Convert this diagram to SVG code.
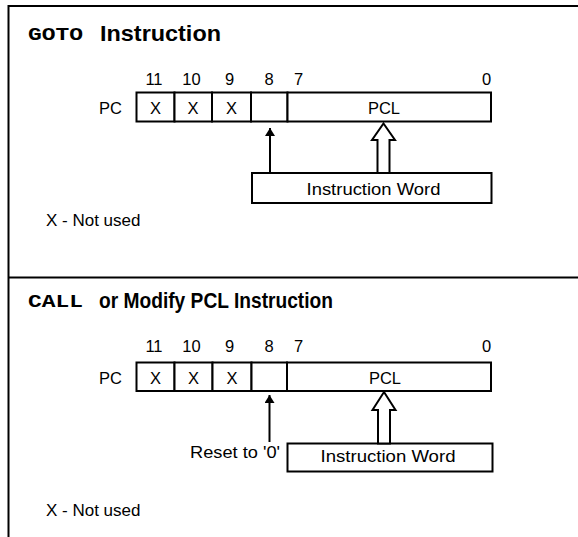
<svg xmlns="http://www.w3.org/2000/svg" width="578" height="537" viewBox="0 0 578 537">
<style>
.f{fill:#fff;stroke:#000;stroke-width:2}
.ln{stroke:#000;stroke-width:2;fill:none}
.t{font-family:"Liberation Sans",Arial,sans-serif;fill:#000}
.s{font-size:16.5px}
.m{font-size:17px}
.h{font-family:"Liberation Sans",Arial,sans-serif;font-size:22px;font-weight:bold;fill:#000}
.mono{font-family:"Liberation Mono","Courier New",monospace;font-size:19px;font-weight:bold;fill:#000}
.c{text-anchor:middle}
</style>
<defs>
<marker id="ah" markerWidth="8" markerHeight="10" refX="8" refY="5" orient="auto" markerUnits="userSpaceOnUse">
<path d="M0,0 L8,5 L0,10 Z" fill="#000"/>
</marker>
</defs>
<g id="frame">
<line class="ln" x1="8" y1="6" x2="578" y2="6"/>
<line class="ln" x1="8.5" y1="5" x2="8.5" y2="537"/>
<line class="ln" x1="8" y1="277.5" x2="578" y2="277.5"/>
</g>
<g id="goto-title">
<text class="mono" x="28" y="39.5" textLength="55" lengthAdjust="spacingAndGlyphs">GOTO</text>
<text class="h" x="100" y="40.5" textLength="121" lengthAdjust="spacingAndGlyphs">Instruction</text>
</g>
<g id="goto-bits" class="t s">
<text class="c" x="154" y="85">11</text>
<text class="c" x="191.5" y="85">10</text>
<text class="c" x="229.5" y="85">9</text>
<text class="c" x="269" y="85">8</text>
<text class="c" x="298.5" y="85">7</text>
<text class="c" x="486.5" y="85">0</text>
<text x="99" y="113.5">PC</text>
</g>
<g id="goto-register">
<rect class="f" x="136.5" y="92.5" width="38" height="29"/>
<rect class="f" x="174.5" y="92.5" width="37.5" height="29"/>
<rect class="f" x="212" y="92.5" width="39" height="29"/>
<rect class="f" x="251" y="92.5" width="36.5" height="29"/>
<rect class="f" x="287.5" y="92.5" width="203.5" height="29"/>
<text class="t s c" x="155.5" y="113.5">X</text>
<text class="t s c" x="193" y="113.5">X</text>
<text class="t s c" x="231.5" y="113.5">X</text>
<text class="t s c" x="384" y="113.5">PCL</text>
</g>
<g id="goto-iw">
<rect class="f" x="252" y="173" width="239.5" height="30"/>
<text class="t m c" x="373.5" y="195" textLength="134" lengthAdjust="spacingAndGlyphs">Instruction Word</text>
</g>
<g id="goto-note">
<text class="t m" x="46" y="226">X - Not used</text>
</g>
<g id="call-title">
<text class="mono" x="28" y="307" textLength="55" lengthAdjust="spacingAndGlyphs">CALL</text>
<text class="h" x="99" y="307.5" textLength="234" lengthAdjust="spacingAndGlyphs">or Modify PCL Instruction</text>
</g>
<g id="call-bits" class="t s">
<text class="c" x="154" y="352">11</text>
<text class="c" x="191.5" y="352">10</text>
<text class="c" x="229.5" y="352">9</text>
<text class="c" x="269" y="352">8</text>
<text class="c" x="298.5" y="352">7</text>
<text class="c" x="486.5" y="352">0</text>
<text x="99" y="383.5">PC</text>
</g>
<g id="call-register">
<rect class="f" x="136.5" y="362.5" width="38" height="28.5"/>
<rect class="f" x="174.5" y="362.5" width="38" height="28.5"/>
<rect class="f" x="212.5" y="362.5" width="39" height="28.5"/>
<rect class="f" x="251.5" y="362.5" width="35.5" height="28.5"/>
<rect class="f" x="287" y="362.5" width="204" height="28.5"/>
<text class="t s c" x="155.5" y="383.5">X</text>
<text class="t s c" x="193.5" y="383.5">X</text>
<text class="t s c" x="232" y="383.5">X</text>
<text class="t s c" x="385" y="383.5">PCL</text>
</g>
<g id="call-iw">
<rect class="f" x="287.5" y="443.5" width="205" height="28"/>
<text class="t m c" x="388" y="462" textLength="135" lengthAdjust="spacingAndGlyphs">Instruction Word</text>
</g>
<g id="call-reset">
<text class="t m" x="280" y="458" text-anchor="end" textLength="90" lengthAdjust="spacingAndGlyphs">Reset to '0'</text>
</g>
<g id="call-note">
<text class="t m" x="46" y="516">X - Not used</text>
</g>
<g id="connectors">
<line class="ln" x1="270" y1="173" x2="270" y2="128" marker-end="url(#ah)"/>
<path class="f" d="M383.5,123.5 L395,140 L389.5,140 L389.5,173 L377.5,173 L377.5,140 L372,140 Z" stroke-width="1.5"/>
<line class="ln" x1="269.5" y1="442" x2="269.5" y2="395" marker-end="url(#ah)"/>
<path class="f" d="M384,392 L395.5,410 L390,410 L390,443.5 L378,443.5 L378,410 L372.5,410 Z" stroke-width="1.5"/>
</g>
</svg>
